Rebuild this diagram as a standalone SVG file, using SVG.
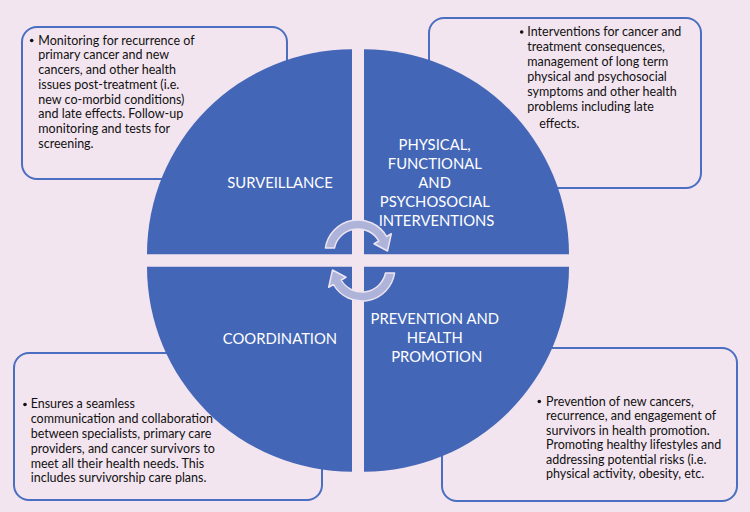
<svg xmlns="http://www.w3.org/2000/svg" width="750" height="512" viewBox="0 0 750 512">
  <defs>
    <style>
      .bg { fill: #F3E5F0; }
      .box { fill: #F3E5F0; stroke: #4A6EC0; stroke-width: 2; }
      .quad { fill: #4366B7; }
      .body { font-family: Lato, "Liberation Sans", sans-serif; font-size: 12.5px; fill: #111111; }
      .label { font-family: Lato, "Liberation Sans", sans-serif; font-size: 14.8px; fill: #FFFFFF; text-anchor: middle; }
      .bullet { fill: #111111; }
      .cyc { fill: #AEB3DA; stroke: #ECE4F1; stroke-width: 1.5; stroke-linejoin: round; }
    </style>
    <path id="cyc" d="M 325.4 248 A 33 33 0 0 1 386.6 236.5 L 391.3 233.75 L 387.5 251 L 374 243.75 L 378.8 241 A 24 24 0 0 0 334.5 248 Z"/>
  </defs>
  <rect class="bg" x="0" y="0" width="750" height="512"/>

  <g id="box-surveillance">
    <rect class="box" x="22" y="27" width="265" height="152" rx="15"/>
    <circle class="bullet" cx="31.7" cy="40.5" r="1.8"/>
    <text class="body">
      <tspan x="38.3" y="44.5">Monitoring for recurrence of</tspan>
      <tspan x="38.3" y="59.25">primary cancer and new</tspan>
      <tspan x="38.3" y="74">cancers, and other health</tspan>
      <tspan x="38.3" y="88.75">issues post-treatment (i.e.</tspan>
      <tspan x="38.3" y="103.5">new co-morbid conditions)</tspan>
      <tspan x="38.3" y="118.25">and late effects. Follow-up</tspan>
      <tspan x="38.3" y="133">monitoring and tests for</tspan>
      <tspan x="38.3" y="147.75">screening.</tspan>
    </text>
  </g>

  <g id="box-interventions">
    <rect class="box" x="429" y="18" width="272" height="170" rx="15"/>
    <circle class="bullet" cx="521.7" cy="32" r="1.8"/>
    <text class="body">
      <tspan x="527.3" y="36">Interventions for cancer and</tspan>
      <tspan x="527.3" y="50.9">treatment consequences,</tspan>
      <tspan x="527.3" y="65.8">management of long term</tspan>
      <tspan x="527.3" y="80.7">physical and psychosocial</tspan>
      <tspan x="527.3" y="95.6">symptoms and other health</tspan>
      <tspan x="527.3" y="110.5">problems including late</tspan>
      <tspan x="539.3" y="128.3">effects.</tspan>
    </text>
  </g>

  <g id="box-coordination">
    <rect class="box" x="14" y="353" width="308" height="147" rx="15"/>
    <circle class="bullet" cx="25" cy="404.5" r="1.8"/>
    <text class="body">
      <tspan x="30.7" y="408.3">Ensures a seamless</tspan>
      <tspan x="30.7" y="423.1">communication and collaboration</tspan>
      <tspan x="30.7" y="437.9">between specialists, primary care</tspan>
      <tspan x="30.7" y="452.7">providers, and cancer survivors to</tspan>
      <tspan x="30.7" y="467.5">meet all their health needs. This</tspan>
      <tspan x="30.7" y="482.3">includes survivorship care plans.</tspan>
    </text>
  </g>

  <g id="box-prevention">
    <rect class="box" x="442" y="348" width="295" height="153" rx="15"/>
    <circle class="bullet" cx="539.3" cy="401.5" r="1.8"/>
    <text class="body">
      <tspan x="546" y="405.5">Prevention of new cancers,</tspan>
      <tspan x="546" y="420.05">recurrence, and engagement of</tspan>
      <tspan x="546" y="434.6">survivors in health promotion.</tspan>
      <tspan x="546" y="449.15">Promoting healthy lifestyles and</tspan>
      <tspan x="546" y="463.7">addressing potential risks (i.e.</tspan>
      <tspan x="546" y="478.25">physical activity, obesity, etc.</tspan>
    </text>
  </g>

  <g id="quad-surveillance">
    <path class="quad" d="M 352 254.3 L 147 254.3 A 205 205 0 0 1 352 49.3 Z"/>
    <text class="label" x="280" y="187.5">SURVEILLANCE</text>
  </g>

  <g id="quad-interventions">
    <path class="quad" d="M 364 254.3 L 364 49.3 A 205 205 0 0 1 569 254.3 Z"/>
    <text class="label">
      <tspan x="436.5" y="149.7">PHYSICAL,</tspan>
      <tspan x="436.5" y="168.7">FUNCTIONAL</tspan>
      <tspan x="436.5" y="187.7">AND</tspan>
      <tspan x="436.5" y="206.7">PSYCHOSOCIAL</tspan>
      <tspan x="436.5" y="225.5">INTERVENTIONS</tspan>
    </text>
  </g>

  <g id="quad-coordination">
    <path class="quad" d="M 352 266.7 L 352 471.7 A 205 205 0 0 1 147 266.7 Z"/>
    <text class="label" x="280" y="344.3">COORDINATION</text>
  </g>

  <g id="quad-prevention">
    <path class="quad" d="M 364 266.7 L 569 266.7 A 205 205 0 0 1 364 471.7 Z"/>
    <text class="label">
      <tspan x="436.7" y="324.3">PREVENTION AND</tspan>
      <tspan x="436.7" y="343.3">HEALTH</tspan>
      <tspan x="436.7" y="362.3">PROMOTION</tspan>
    </text>
  </g>

  <g id="connectors">
    <use href="#cyc" class="cyc"/>
    <use href="#cyc" class="cyc" transform="rotate(180 360 260.5)"/>
  </g>
</svg>
